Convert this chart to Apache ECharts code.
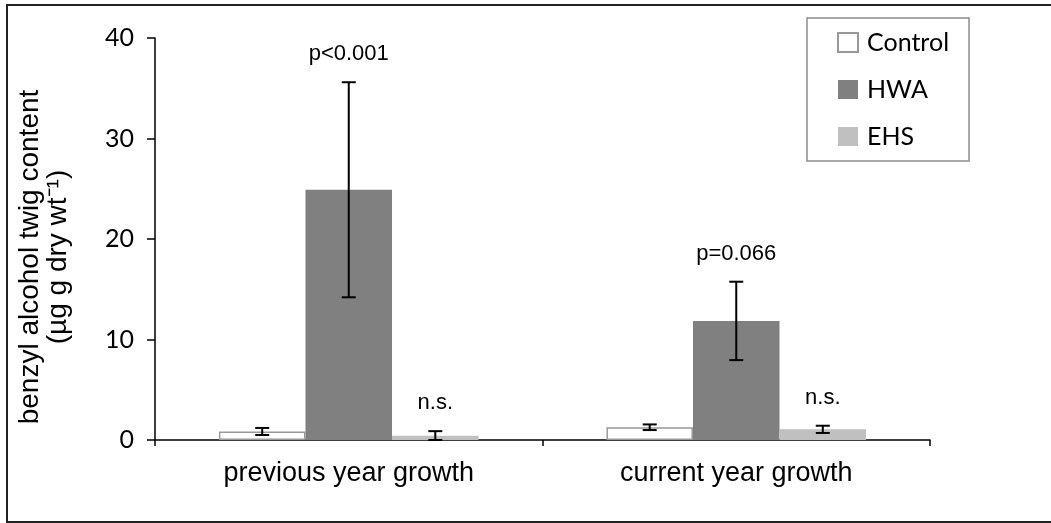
<!DOCTYPE html>
<html><head><meta charset="utf-8">
<script src="https://cdn.jsdelivr.net/npm/echarts@6/dist/echarts.min.js"></script>
<style>html,body{margin:0;padding:0;background:#fff}#c{width:1051px;height:523px}</style>
</head><body><div id="c"></div>
<script>
const categories = ['previous year growth', 'current year growth'];
const seriesNames = ['Control', 'HWA', 'EHS'];
const controlMean = [0.85, 1.27];
const controlErr = [0.35, 0.28];
const hwaMean = [24.9, 11.85];
const hwaErr = [10.7, 3.9];
const ehsMean = [0.43, 1.06];
const ehsErr = [0.45, 0.36];
const hwaSig = ['p<0.001', 'p=0.066'];
const ehsSig = ['n.s.', 'n.s.'];
const yTicks = [0, 10, 20, 30, 40];
const yTitle = 'benzyl alcohol twig content\n(µg g dry wt⁻¹)';

const means = [controlMean, hwaMean, ehsMean];
const errs = [controlErr, hwaErr, ehsErr];
const sigs = [null, hwaSig, ehsSig];
const colors = ['#ffffff', '#808080', '#c0c0c0'];
const CAT_GAP = 0.33;

const chart = echarts.init(document.getElementById('c'));
const series = [];
seriesNames.forEach((n, i) => {
  series.push({
    name: n, type: 'bar', data: means[i], barGap: 0, barCategoryGap: '33%',
    itemStyle: i === 0 ? {color: colors[i], borderColor: '#999', borderWidth: 1.5} : {color: colors[i]},
    z: 2
  });
});
seriesNames.forEach((n, i) => {
  series.push({
    type: 'custom', z: 5, silent: true,
    data: categories.map((c, k) => [k, means[i][k], errs[i][k]]),
    renderItem: function (params, api) {
      const k = api.value(0), m = api.value(1), e = api.value(2);
      const bandW = api.size([1, 0])[0];
      const barW = bandW * (1 - CAT_GAP) / 3;
      const off = (i - 1) * barW;
      const t = api.coord([k, m + e]);
      const b = api.coord([k, Math.max(0, m - e)]);
      const cx = t[0] + off;
      const cap = 7;
      const st = {stroke: '#000', lineWidth: 2};
      const children = [
        {type: 'line', shape: {x1: cx, y1: t[1], x2: cx, y2: b[1]}, style: st},
        {type: 'line', shape: {x1: cx - cap, y1: t[1], x2: cx + cap, y2: t[1]}, style: st},
        {type: 'line', shape: {x1: cx - cap, y1: b[1], x2: cx + cap, y2: b[1]}, style: st}
      ];
      const s = sigs[i];
      if (s) {
        children.push({type: 'text', style: {text: s[params.dataIndex], x: cx, y: t[1] - 28,
          align: 'center', verticalAlign: 'middle', fill: '#000',
          font: '22px "Liberation Sans", Arial, sans-serif'}});
      }
      return {type: 'group', children: children};
    }
  });
});

chart.setOption({
  animation: false,
  backgroundColor: '#fff',
  grid: {left: 155, right: 121, top: 38, bottom: 83, containLabel: false},
  graphic: [
    {type: 'rect', shape: {x: 7, y: 5, width: 1100, height: 517},
      style: {fill: 'none', stroke: '#222', lineWidth: 2}, z: 10, silent: true},
    {type: 'text', x: 44, y: 257, rotation: Math.PI / 2, silent: true,
      style: {text: yTitle, align: 'center', verticalAlign: 'middle', fill: '#000',
        font: '28px "Liberation Sans", Arial, sans-serif', lineHeight: 28}}
  ],
  legend: {
    data: seriesNames, orient: 'vertical', left: 807, top: 18,
    padding: [12, 20, 12, 30], itemGap: 22, itemWidth: 20, itemHeight: 19,
    borderColor: '#8c8c8c', borderWidth: 1.5, icon: 'rect',
    textStyle: {fontFamily: 'Lato', fontSize: 25, color: '#000', padding: [0, 0, 0, 4]}
  },
  xAxis: {
    type: 'category', data: categories,
    axisLine: {lineStyle: {color: '#000', width: 1.5}},
    axisTick: {show: true, length: 6, lineStyle: {color: '#000', width: 1.5}},
    axisLabel: {fontFamily: '"Liberation Sans", Arial, sans-serif', fontSize: 27, color: '#000', margin: 20}
  },
  yAxis: {
    type: 'value', min: yTicks[0], max: yTicks[yTicks.length - 1], interval: 10,
    axisLine: {show: true, lineStyle: {color: '#000', width: 1.5}},
    axisTick: {show: true, length: 8, lineStyle: {color: '#000', width: 1.5}},
    splitLine: {show: false},
    axisLabel: {fontFamily: 'Lato', fontSize: 25, color: '#000', margin: 21}
  },
  series: series
});
</script></body></html>
